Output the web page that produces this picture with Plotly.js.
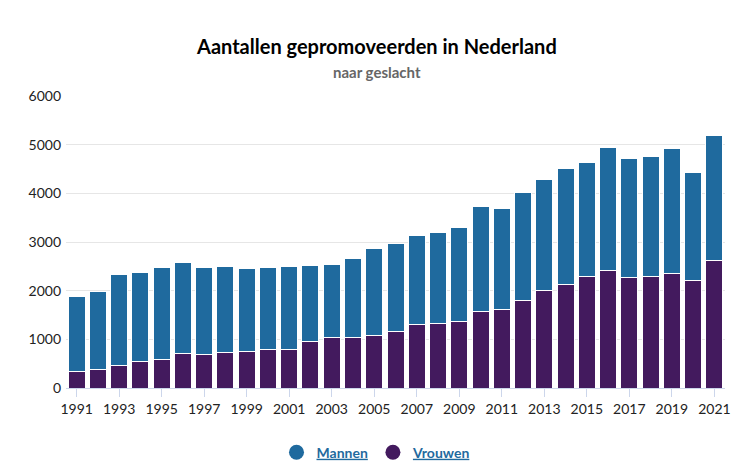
<!DOCTYPE html>
<html>
<head>
<meta charset="utf-8">
<script src="https://cdn.plot.ly/plotly-3.0.1.min.js"></script>
<style>html,body{margin:0;padding:0;background:#fff;}</style>
</head>
<body>
<div id="chart" style="width:752px;height:475px;"></div>
<script>
const years = [1991,1992,1993,1994,1995,1996,1997,1998,1999,2000,2001,2002,2003,2004,2005,2006,2007,2008,2009,2010,2011,2012,2013,2014,2015,2016,2017,2018,2019,2020,2021];
const totaal = [1873,1976,2332,2373,2468,2578,2468,2489,2448,2468,2503,2523,2544,2653,2865,2974,3132,3186,3289,3720,3686,4007,4294,4506,4636,4944,4711,4752,4923,4431,5190];
const vrouwen = [335,390,458,547,595,704,690,725,745,800,800,964,1046,1046,1080,1163,1313,1333,1368,1566,1621,1805,1997,2133,2284,2414,2263,2284,2345,2215,2612];
const mannen = totaal.map((t,i)=>t - vrouwen[i]);
const yTicks = [0,1000,2000,3000,4000,5000,6000];

const cMannen = '#1f6a9e';
const cVrouwen = '#431a5e';
const font = 'Lato, "Open Sans", sans-serif';

const traces = [
  {type:'bar', x:years, y:vrouwen, name:'Vrouwen', marker:{color:cVrouwen, line:{color:'#ffffff', width:1}}, showlegend:false, hoverinfo:'x+y+name'},
  {type:'bar', x:years, y:mannen, name:'Mannen', marker:{color:cMannen, line:{color:'#ffffff', width:1}}, showlegend:false, hoverinfo:'x+y+name'},
  {type:'scatter', mode:'markers', x:[null], y:[null], name:'<b><u>Mannen</u></b>', marker:{color:cMannen, size:15, symbol:'circle'}},
  {type:'scatter', mode:'markers', x:[null], y:[null], name:'<b><u>Vrouwen</u></b>', marker:{color:cVrouwen, size:15, symbol:'circle'}}
];

const layout = {
  width:752, height:475,
  margin:{l:66, r:27, t:96, b:87, autoexpand:false},
  paper_bgcolor:'#fff', plot_bgcolor:'#fff',
  barmode:'stack', bargap:0.2,
  font:{family:font, color:'#333', size:13},
  showlegend:true,
  legend:{orientation:'h', traceorder:'normal', xref:'container', yref:'container', x:0.5, xanchor:'center', y:0.047, yanchor:'middle', font:{family:font, size:14, color:cMannen}, itemwidth:30},
  xaxis:{range:[1990.5,2021.5], tickmode:'array', tickvals:years.filter(y=>y%2===1), ticks:'outside', ticklen:8, tickcolor:'#ccd6eb', showline:true, linecolor:'#ccd6eb', linewidth:1, showgrid:false, zeroline:false, tickfont:{family:font, size:14, color:'#222'}, fixedrange:true},
  yaxis:{range:[0,6000], tickmode:'array', tickvals:yTicks, ticktext:yTicks.map(String), showgrid:true, gridcolor:'#e6e6e6', zeroline:false, showline:false, ticks:'', tickfont:{family:font, size:14, color:'#222'}, ticklabelstandoff:4, fixedrange:true},
  annotations:[
    {text:'<b>Aantallen gepromoveerden in Nederland</b>', xref:'paper', yref:'paper', x:0.4716, y:1, yshift:50, xanchor:'center', yanchor:'middle', showarrow:false, font:{family:font, size:20, color:'#000'}},
    {text:'<b>naar geslacht</b>', xref:'paper', yref:'paper', x:0.4716, y:1, yshift:24, xanchor:'center', yanchor:'middle', showarrow:false, font:{family:font, size:15, color:'#666'}}
  ]
};

Plotly.newPlot('chart', traces, layout, {displayModeBar:false});
</script>
</body>
</html>
